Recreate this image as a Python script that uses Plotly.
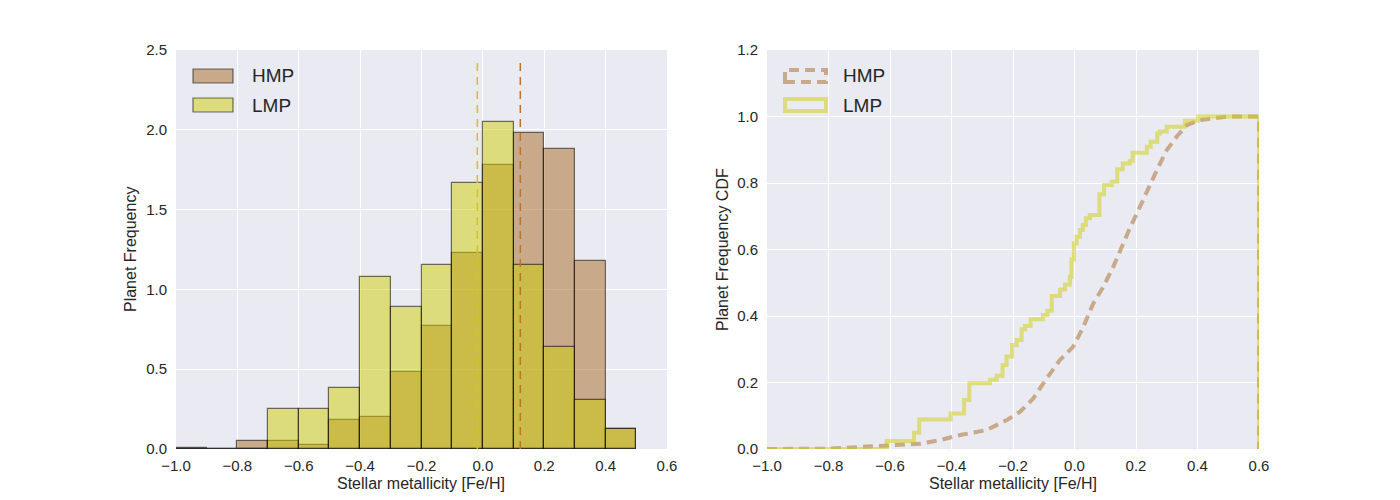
import plotly.graph_objects as go

# ---------------- data ----------------
bin_edges = [-1.0, -0.9, -0.8, -0.7, -0.6, -0.5, -0.4, -0.3, -0.2, -0.1, 0.0, 0.1, 0.2, 0.3, 0.4, 0.5]
hmp_freq = [0.006, 0.0, 0.05, 0.05, 0.025, 0.18, 0.20, 0.48, 0.77, 1.23, 1.78, 1.98, 1.88, 1.18, 0.125]
lmp_freq = [0.0, 0.0, 0.0, 0.25, 0.25, 0.38, 1.08, 0.89, 1.15, 1.665, 2.05, 1.15, 0.64, 0.31, 0.125]
hmp_mean = 0.122
lmp_mean = -0.018
mean_line_top = 2.45

lmp_cdf_x = [-1.0, -0.611, -0.522, -0.505, -0.403, -0.359, -0.342, -0.275, -0.253, -0.234, -0.221,
             -0.203, -0.188, -0.172, -0.161, -0.143, -0.103, -0.088, -0.074, -0.047, -0.031, -0.015,
             -0.010, -0.002, 0.007, 0.018, 0.027, 0.037, 0.050, 0.081, 0.096, 0.121, 0.139, 0.157,
             0.180, 0.189, 0.235, 0.248, 0.269, 0.278, 0.300, 0.359, 0.402, 0.6, 0.6]
lmp_cdf_y = [0.0, 0.024, 0.049, 0.089, 0.107, 0.147, 0.198, 0.208, 0.220, 0.253, 0.278,
             0.313, 0.328, 0.360, 0.370, 0.390, 0.403, 0.416, 0.460, 0.480, 0.495, 0.518,
             0.570, 0.619, 0.638, 0.659, 0.674, 0.694, 0.704, 0.766, 0.794, 0.804, 0.841, 0.859,
             0.866, 0.891, 0.909, 0.924, 0.949, 0.955, 0.969, 0.987, 1.0, 1.0, 0.0]

hmp_cdf_x = [-1.0, -0.8, -0.7, -0.6, -0.5, -0.437, -0.372, -0.286, -0.22, -0.177, -0.134, -0.09,
             -0.047, -0.004, 0.029, 0.061, 0.094, 0.126, 0.153, 0.18, 0.213, 0.246, 0.273, 0.3,
             0.332, 0.365, 0.408, 0.473, 0.5, 0.6, 0.6]
hmp_cdf_y = [0.0, 0.001, 0.006, 0.011, 0.016, 0.027, 0.042, 0.057, 0.087, 0.112, 0.152, 0.213,
             0.268, 0.308, 0.368, 0.438, 0.488, 0.548, 0.608, 0.664, 0.729, 0.799, 0.849, 0.899,
             0.939, 0.974, 0.989, 0.997, 1.0, 1.0, 0.0]

labels = ["HMP", "LMP"]
x_ticks = [-1.0, -0.8, -0.6, -0.4, -0.2, 0.0, 0.2, 0.4, 0.6]
y1_ticks = [0.0, 0.5, 1.0, 1.5, 2.0, 2.5]
y2_ticks = [0.0, 0.2, 0.4, 0.6, 0.8, 1.0, 1.2]

# ---------------- style ----------------
OFF = 8                      # default page body margin
W, H = 1400 - 2 * OFF, 500 - OFF
BG = "#EAEAF2"
TXT = "#262626"
FONT = "Liberation Sans, Arial, sans-serif"
HMP_FILL = "rgba(166,104,34,0.5)"
LMP_FILL = "rgba(206,206,8,0.5)"
EDGE = "rgba(0,0,0,0.55)"
HMP_LINE = "rgb(192,114,40)"
LMP_LINE = "rgb(208,198,30)"

def fmt(v):
    s = f"{v:.1f}"
    return s.replace("-", "\u2212")

def px(x):
    return (x - OFF) / W

def py(y):
    return 1 - (y - OFF) / H

centers = [(bin_edges[i] + bin_edges[i + 1]) / 2 for i in range(len(bin_edges) - 1)]
widths = [bin_edges[i + 1] - bin_edges[i] for i in range(len(bin_edges) - 1)]

fig = go.Figure()
fig.add_trace(go.Bar(x=centers, y=hmp_freq, width=widths, name=labels[0],
                     marker=dict(color=HMP_FILL, line=dict(color=EDGE, width=1.2)),
                     xaxis="x", yaxis="y", showlegend=False))
fig.add_trace(go.Bar(x=centers, y=lmp_freq, width=widths, name=labels[1],
                     marker=dict(color=LMP_FILL, line=dict(color=EDGE, width=1.2)),
                     xaxis="x", yaxis="y", showlegend=False))

fig.add_trace(go.Scatter(x=hmp_cdf_x, y=hmp_cdf_y, mode="lines", name=labels[0],
                         line=dict(color=HMP_FILL, width=4, dash="10px,6px"),
                         xaxis="x2", yaxis="y2", showlegend=False))
fig.add_trace(go.Scatter(x=lmp_cdf_x, y=lmp_cdf_y, mode="lines", name=labels[1],
                         line=dict(color=LMP_FILL, width=4, shape="hv"),
                         xaxis="x2", yaxis="y2", showlegend=False))

# mean lines
for m, c in [(lmp_mean, LMP_LINE), (hmp_mean, HMP_LINE)]:
    fig.add_shape(type="line", xref="x", yref="y", x0=m, x1=m, y0=0, y1=mean_line_top,
                  line=dict(color=c, width=1.5, dash="8px,6px"))

# legends (drawn manually to match matplotlib patches)
fig.add_shape(type="rect", xref="paper", yref="paper", x0=px(193), x1=px(233), y0=py(83), y1=py(69),
              fillcolor=HMP_FILL, line=dict(color=EDGE, width=1.2))
fig.add_shape(type="rect", xref="paper", yref="paper", x0=px(193), x1=px(233), y0=py(112), y1=py(98),
              fillcolor=LMP_FILL, line=dict(color=EDGE, width=1.2))
fig.add_shape(type="rect", xref="paper", yref="paper", x0=px(785), x1=px(826), y0=py(82), y1=py(70),
              line=dict(color=HMP_FILL, width=4, dash="10px,6px"))
fig.add_shape(type="rect", xref="paper", yref="paper", x0=px(785), x1=px(826), y0=py(111), y1=py(99),
              line=dict(color=LMP_FILL, width=4))

annos = []
for xx, yy, t in [(250, 76, labels[0]), (250, 105, labels[1]), (841, 76, labels[0]), (841, 105, labels[1])]:
    annos.append(dict(x=px(xx), y=py(yy), xref="paper", yref="paper", text=t, showarrow=False,
                      xanchor="left", yanchor="middle", font=dict(family=FONT, size=19, color=TXT)))
# axis titles
TS = 16
annos.append(dict(x=px(421), y=py(483), xref="paper", yref="paper", text="Stellar metallicity [Fe/H]",
                  showarrow=False, xanchor="center", yanchor="middle", font=dict(family=FONT, size=TS, color=TXT)))
annos.append(dict(x=px(1013), y=py(483), xref="paper", yref="paper", text="Stellar metallicity [Fe/H]",
                  showarrow=False, xanchor="center", yanchor="middle", font=dict(family=FONT, size=TS, color=TXT)))
annos.append(dict(x=px(130), y=py(250), xref="paper", yref="paper", text="Planet Frequency", textangle=-90,
                  showarrow=False, xanchor="center", yanchor="middle", font=dict(family=FONT, size=TS, color=TXT)))
annos.append(dict(x=px(722), y=py(250), xref="paper", yref="paper", text="Planet Frequency CDF", textangle=-90,
                  showarrow=False, xanchor="center", yanchor="middle", font=dict(family=FONT, size=TS, color=TXT)))

axis_common = dict(showgrid=True, gridcolor="white", gridwidth=1, zeroline=False, showline=False,
                   ticks="", tickfont=dict(family=FONT, size=15, color=TXT), automargin=False)

ydom = [1 - (449 - OFF) / H, 1 - (50 - OFF) / H]
fig.update_layout(
    width=W, height=H,
    margin=dict(l=0, r=0, t=0, b=0),
    paper_bgcolor="white", plot_bgcolor=BG,
    barmode="overlay", bargap=0,
    xaxis=dict(domain=[px(176), px(667)], range=[-1.0, 0.6], tickvals=x_ticks,
               ticktext=[fmt(v) for v in x_ticks], anchor="y", ticklabelstandoff=6, **axis_common),
    yaxis=dict(domain=ydom, range=[0, 2.5], tickvals=y1_ticks,
               ticktext=[fmt(v) for v in y1_ticks], anchor="x", ticklabelstandoff=8, **axis_common),
    xaxis2=dict(domain=[px(767), px(1259)], range=[-1.0, 0.6], tickvals=x_ticks,
                ticktext=[fmt(v) for v in x_ticks], anchor="y2", ticklabelstandoff=6, **axis_common),
    yaxis2=dict(domain=ydom, range=[0, 1.2], tickvals=y2_ticks,
                ticktext=[fmt(v) for v in y2_ticks], anchor="x2", ticklabelstandoff=8, **axis_common),
    annotations=annos,
    showlegend=False,
)

fig.write_html("out.html")
